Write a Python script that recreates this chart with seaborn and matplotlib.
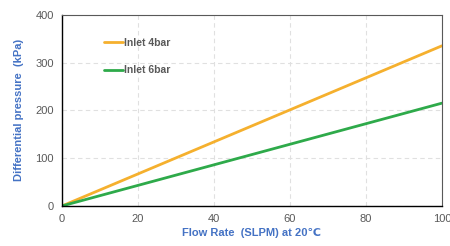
import seaborn as sns
import matplotlib.pyplot as plt
import pandas as pd

flow = [0, 20, 40, 60, 80, 100]
inlet_4bar = [0, 67, 134, 201, 268, 335]
inlet_6bar = [0, 43, 86, 129, 172, 215]
series_names = ['Inlet 4bar', 'Inlet 6bar']

df = pd.DataFrame({'flow': flow * 2,
                   'dp': inlet_4bar + inlet_6bar,
                   'series': [series_names[0]] * len(flow) + [series_names[1]] * len(flow)})

sns.set_theme(style='white')
plt.rcParams['font.family'] = ['Liberation Sans', 'DejaVu Sans']

fig, ax = plt.subplots(figsize=(4.5, 2.46), dpi=100)
fig.subplots_adjust(left=0.138, right=0.982, top=0.94, bottom=0.163)

sns.lineplot(data=df, x='flow', y='dp', hue='series',
             palette=['#F5B02E', '#2EAA4A'], linewidth=2, ax=ax)

ax.set_xlim(0, 100)
ax.set_ylim(0, 400)
ax.set_xticks([0, 20, 40, 60, 80, 100])
ax.set_yticks([0, 100, 200, 300, 400])
ax.grid(True, color='#E0E0E0', linestyle=(0, (4, 3)), linewidth=0.8)
ax.tick_params(axis='both', labelsize=8, colors='#595959', length=0, pad=6)

for side in ['top', 'right']:
    ax.spines[side].set_color('#595959')
    ax.spines[side].set_linewidth(0.8)
for side in ['left', 'bottom']:
    ax.spines[side].set_color('black')
    ax.spines[side].set_linewidth(1.0)

label_color = '#4472C4'
ax.set_xlabel('Flow Rate  (SLPM) at 20\u2103', fontsize=8, fontweight='bold', color=label_color, labelpad=3)
ax.set_ylabel('Differential pressure  (kPa)', fontsize=8, fontweight='bold', color=label_color, labelpad=8)

leg = ax.legend(loc='upper left', bbox_to_anchor=(0.085, 0.93), frameon=False,
                fontsize=7.5, handlelength=1.8, handletextpad=0.1, labelspacing=1.7)
for t in leg.get_texts():
    t.set_color('#595959')
    t.set_fontweight('bold')

plt.savefig('out.png', dpi=100)
